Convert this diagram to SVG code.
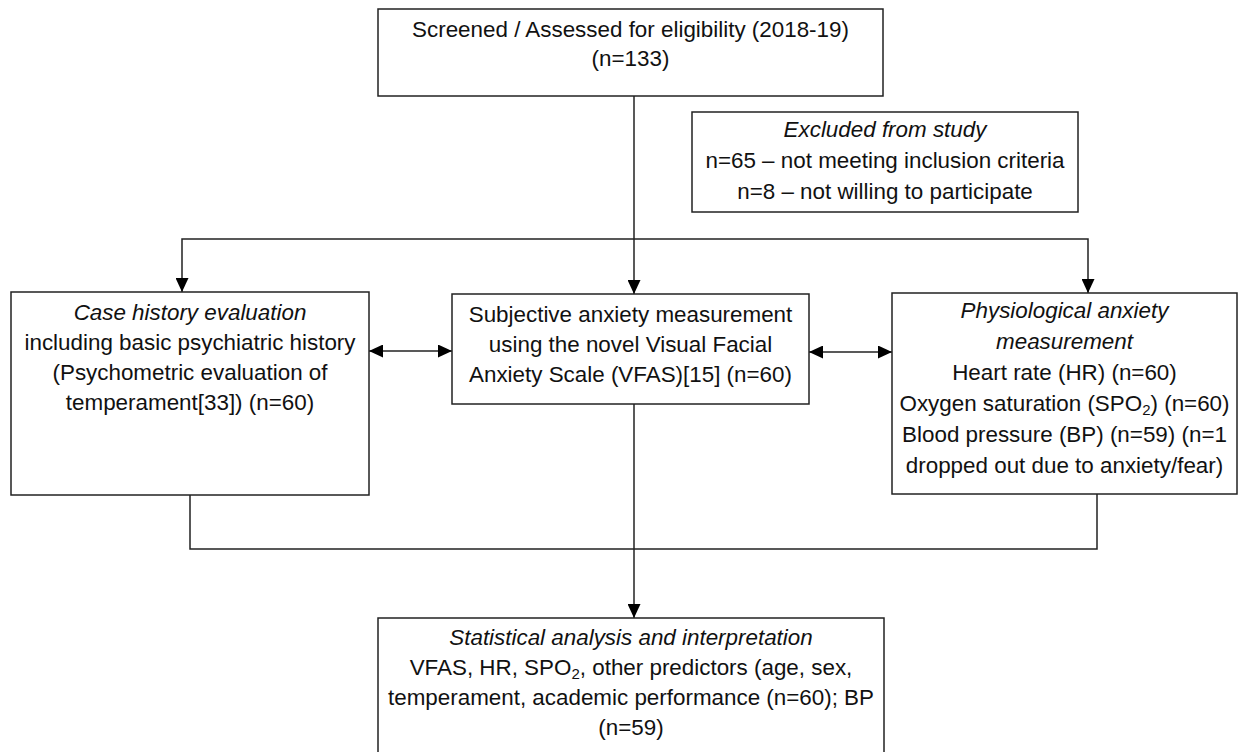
<svg xmlns="http://www.w3.org/2000/svg" width="1238" height="752" viewBox="0 0 1238 752">
<defs>
<style>
.box{fill:#fff;stroke:#222;stroke-width:1.5}
.ln{fill:none;stroke:#222;stroke-width:1.5}
text{font-family:"Liberation Sans",Arial,sans-serif;font-size:22.4px;fill:#111;text-anchor:middle}
.it{font-style:italic}
.sub{font-size:15px}
</style>
<marker id="ah" markerWidth="14" markerHeight="13" refX="14" refY="6.5" orient="auto-start-reverse" markerUnits="userSpaceOnUse">
<path d="M0,0 L14,6.5 L0,13 z" fill="#000"/>
</marker>
</defs>
<rect width="1238" height="752" fill="#fff"/>
<g id="connectors">
<line class="ln" x1="634" y1="96" x2="634" y2="294" marker-end="url(#ah)"/>
<polyline class="ln" points="182,292 182,239 1088,239 1088,293" marker-start="url(#ah)" marker-end="url(#ah)"/>
<line class="ln" x1="369" y1="351" x2="452" y2="351" marker-start="url(#ah)" marker-end="url(#ah)"/>
<line class="ln" x1="809" y1="352" x2="892" y2="352" marker-start="url(#ah)" marker-end="url(#ah)"/>
<polyline class="ln" points="190,495 190,549 1097,549 1097,494"/>
<line class="ln" x1="634" y1="404" x2="634" y2="618" marker-end="url(#ah)"/>
</g>
<g id="screened">
<rect class="box" x="378" y="9" width="505" height="87"/>
<text x="630.5" y="37">Screened / Assessed for eligibility (2018-19)</text>
<text x="630.5" y="66">(n=133)</text>
</g>
<g id="excluded">
<rect class="box" x="692" y="112" width="386" height="100"/>
<text x="885" y="137" class="it">Excluded from study</text>
<text x="885" y="168">n=65 – not meeting inclusion criteria</text>
<text x="885" y="199">n=8 – not willing to participate</text>
</g>
<g id="case-history">
<rect class="box" x="11" y="292" width="358" height="203"/>
<text x="190" y="320" class="it">Case history evaluation</text>
<text x="190" y="350">including basic psychiatric history</text>
<text x="190" y="380">(Psychometric evaluation of</text>
<text x="190" y="410">temperament[33]) (n=60)</text>
</g>
<g id="subjective">
<rect class="box" x="452" y="294" width="357" height="110"/>
<text x="630.5" y="322">Subjective anxiety measurement</text>
<text x="630.5" y="352">using the novel Visual Facial</text>
<text x="630.5" y="382">Anxiety Scale (VFAS)[15] (n=60)</text>
</g>
<g id="physiological">
<rect class="box" x="892" y="293" width="345" height="201"/>
<text x="1064.5" y="318" class="it">Physiological anxiety</text>
<text x="1064.5" y="349" class="it">measurement</text>
<text x="1064.5" y="380">Heart rate (HR) (n=60)</text>
<text x="1064.5" y="411">Oxygen saturation (SPO<tspan class="sub" dy="4">2</tspan><tspan dy="-4">) (n=60)</tspan></text>
<text x="1064.5" y="442">Blood pressure (BP) (n=59) (n=1</text>
<text x="1064.5" y="473">dropped out due to anxiety/fear)</text>
</g>
<g id="statistical">
<rect class="box" x="378" y="618" width="506" height="150"/>
<text x="631" y="645" class="it">Statistical analysis and interpretation</text>
<text x="631" y="675">VFAS, HR, SPO<tspan class="sub" dy="4">2</tspan><tspan dy="-4">, other predictors (age, sex,</tspan></text>
<text x="631" y="705">temperament, academic performance (n=60); BP</text>
<text x="631" y="735">(n=59)</text>
</g>
</svg>
